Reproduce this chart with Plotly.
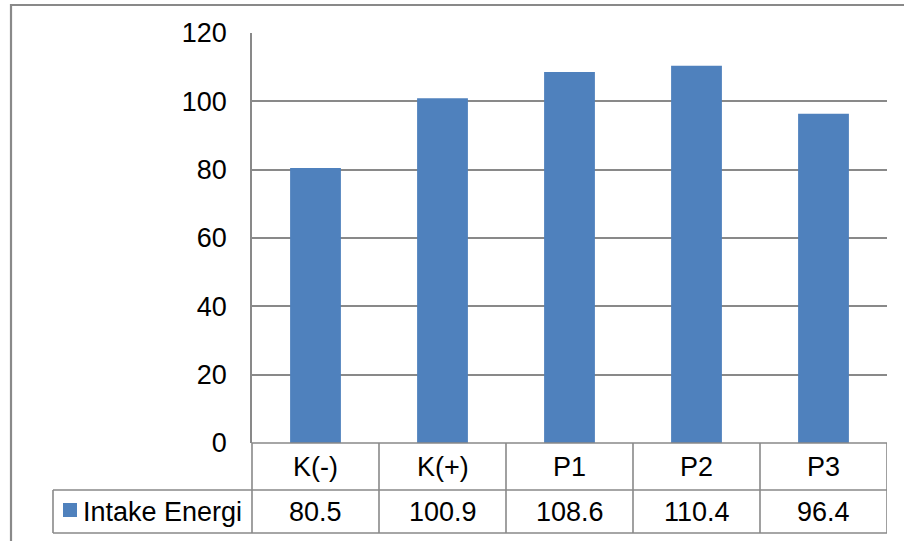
import plotly.graph_objects as go

# Energy intake per treatment group
categories = ["K(-)", "K(+)", "P1", "P2", "P3"]
intake_energi = [80.5, 100.9, 108.6, 110.4, 96.4]
series_name = "Intake Energi"
y_ticks = [0, 20, 40, 60, 80, 100, 120]

W, H = 904, 541
BAR = "#4F81BD"
LINE = "#898989"
FONT = "Liberation Sans, Arial, sans-serif"
FS = 27


def px_x(p):
    return p / W


def px_y(p):
    return 1 - p / H


# plot area geometry (pixels)
PL, PR, PT, PB = 252, 887, 33, 443
ROW1, ROW2 = 490, 533
LEG_L = 53

fig = go.Figure()
fig.add_trace(go.Bar(
    x=categories, y=intake_energi, name=series_name,
    marker=dict(color=BAR, line=dict(width=0)),
    showlegend=False, hoverinfo="x+y",
))

fig.update_layout(
    width=W, height=H,
    margin=dict(l=0, r=0, t=0, b=0, pad=0),
    paper_bgcolor="white", plot_bgcolor="white",
    bargap=0.6,
    font=dict(family=FONT, size=FS, color="black"),
    xaxis=dict(
        domain=[px_x(PL), px_x(PR)],
        type="category", range=[-0.5, len(categories) - 0.5],
        showticklabels=False, showgrid=False, zeroline=False,
        showline=False, ticks="", automargin=False,
    ),
    yaxis=dict(
        domain=[px_y(PB), px_y(PT)],
        range=[0, 120], tickvals=y_ticks,
        showgrid=True, gridcolor=LINE, gridwidth=1.6,
        zeroline=False, showline=True, linecolor=LINE, linewidth=1.6,
        ticks="", ticklabelstandoff=18, automargin=False,
        tickfont=dict(family=FONT, size=FS, color="black"),
    ),
)

shapes = []
lw = dict(color=LINE, width=1.6)

# outer chart border
shapes.append(dict(type="rect", xref="paper", yref="paper",
                   x0=px_x(11), x1=px_x(W + 20), y0=px_y(H + 20), y1=px_y(5),
                   line=dict(color=LINE, width=2.2), fillcolor="rgba(0,0,0,0)", layer="below"))

# data table: horizontal rules
for yp, xl in [(PB, PL), (ROW1, LEG_L), (ROW2, LEG_L)]:
    shapes.append(dict(type="line", xref="paper", yref="paper",
                       x0=px_x(xl), x1=px_x(PR), y0=px_y(yp), y1=px_y(yp), line=lw))

# vertical rules: left axis extension, legend cell edge, category boundaries
shapes.append(dict(type="line", xref="paper", yref="paper",
                   x0=px_x(PL), x1=px_x(PL), y0=px_y(PB), y1=px_y(ROW2), line=lw))
shapes.append(dict(type="line", xref="paper", yref="paper",
                   x0=px_x(LEG_L), x1=px_x(LEG_L), y0=px_y(ROW1), y1=px_y(ROW2), line=lw))
for i in range(len(categories)):
    shapes.append(dict(type="line", xref="x", yref="paper",
                       x0=i + 0.5, x1=i + 0.5, y0=px_y(PB), y1=px_y(ROW2), line=lw))

# legend key square
shapes.append(dict(type="rect", xref="paper", yref="paper",
                   x0=px_x(63), x1=px_x(77), y0=px_y(517), y1=px_y(503),
                   line=dict(width=0), fillcolor=BAR))
fig.update_layout(shapes=shapes)

ann = []
for i, (c, v) in enumerate(zip(categories, intake_energi)):
    ann.append(dict(x=i, xref="x", y=px_y((PB + ROW1) / 2), yref="paper",
                    text=c, showarrow=False, xanchor="center", yanchor="middle"))
    ann.append(dict(x=i, xref="x", y=px_y((ROW1 + ROW2) / 2), yref="paper",
                    text=f"{v:.1f}", showarrow=False, xanchor="center", yanchor="middle"))
ann.append(dict(x=px_x(81), xref="paper", y=px_y((ROW1 + ROW2) / 2), yref="paper",
                text=series_name, showarrow=False, xanchor="left", yanchor="middle"))
fig.update_layout(annotations=ann)

fig.write_html("out.html")
